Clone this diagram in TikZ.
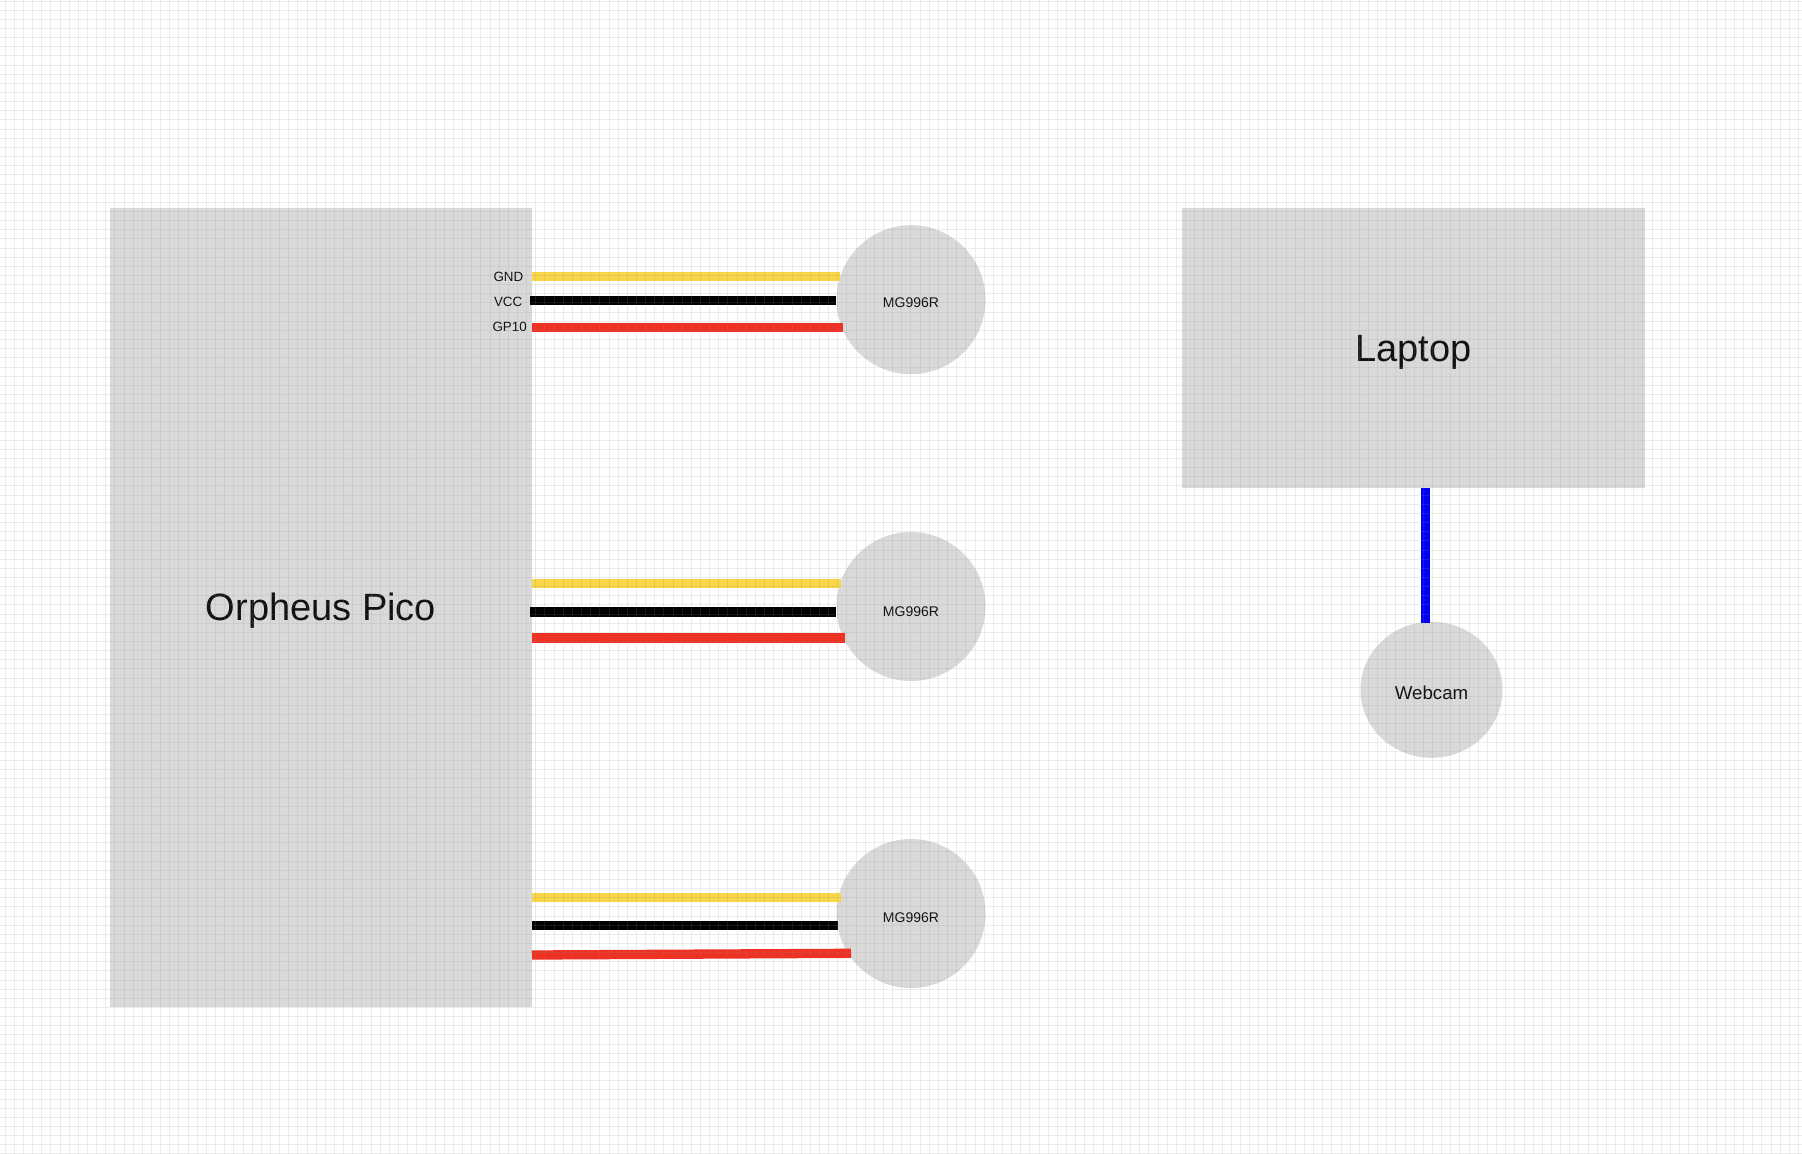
\documentclass[tikz,border=0pt]{standalone}
\usepackage{fontspec}
\usetikzlibrary{shapes.geometric}
\setmainfont{Liberation Sans}
\definecolor{boxgray}{HTML}{D9D9D9}
\definecolor{wyellow}{HTML}{F9D648}
\definecolor{wred}{HTML}{EE3122}
\definecolor{wblue}{HTML}{0000F5}
\definecolor{inktext}{HTML}{111111}
\definecolor{gridtone}{HTML}{909090}
\newcommand{\baseshift}[2]{\smash{\raisebox{#1}{#2}}}
\tikzset{
  x=1pt,y=-1pt,
  boxnode/.style={fill=boxgray,draw=none,inner sep=0pt,outer sep=0pt,text=inktext,minimum width=#1},
  circnode/.style={fill=boxgray,draw=none,circle,inner sep=0pt,outer sep=0pt,minimum size=149pt,text=inktext,font=\fontsize{14}{16}\selectfont},
  wire/.style={line width=9.3pt,line cap=butt},
  pinlabel/.style={inner sep=0pt,anchor=base east,text=inktext,font=\fontsize{13.4}{16}\selectfont},
  gridline/.style={line width=1pt,draw=gridtone,draw opacity=.16},
}
\begin{document}
\begin{tikzpicture}
\useasboundingbox (0,0) rectangle (1802,1154);
\fill[white] (0,0) rectangle (1802,1154);
% boxes
\node[boxnode=422pt,minimum height=799pt,font=\fontsize{38}{42}\selectfont] (pico) at (321,607.2) {\baseshift{-12.8pt}{Orpheus Pico}};
\node[boxnode=462.5pt,minimum height=280pt,font=\fontsize{38}{42}\selectfont] (laptop) at (1413.6,348) {\baseshift{-13.7pt}{Laptop}};
% servos
\node[circnode] (s1) at (911,299.7) {\baseshift{-7.3pt}{MG996R}};
\node[circnode] (s2) at (911,606.5) {\baseshift{-10.2pt}{MG996R}};
\node[circnode] (s3) at (911,913.5) {\baseshift{-9.2pt}{MG996R}};
\node[fill=boxgray,draw=none,ellipse,inner sep=0pt,outer sep=0pt,minimum width=142pt,minimum height=136pt,text=inktext,font=\fontsize{18.7}{22}\selectfont] (cam) at (1431.5,689.8) {\baseshift{-9.2pt}{Webcam}};
% pin labels
\node[pinlabel] (gnd) at (523.5,281.7) {GND};
\node[pinlabel] (vcc) at (522.5,306.7) {VCC};
\node[pinlabel] (gp) at (527,331.7) {GP10};
% wire ends
\coordinate (a1) at (531.5,276.7); \coordinate (b1) at (840,276.7);
\coordinate (a2) at (530,300.5);   \coordinate (b2) at (836,300.5);
\coordinate (a3) at (532,327.7);   \coordinate (b3) at (843,327.7);
\coordinate (a4) at (531.5,583.7); \coordinate (b4) at (840.7,583.7);
\coordinate (a5) at (530,612);     \coordinate (b5) at (836,612);
\coordinate (a6) at (531.7,638.1); \coordinate (b6) at (844.7,638.1);
\coordinate (a7) at (531.5,897.3); \coordinate (b7) at (841,897.3);
\coordinate (a8) at (532,925.7);   \coordinate (b8) at (838,925.7);
\coordinate (a9) at (532,955);     \coordinate (b9) at (851,953.3);
\coordinate (c1) at (1425.2,488);  \coordinate (c2) at (1425.2,622.5);
\draw[wire,wyellow] (a1) -- (b1);
\draw[wire,black] (a2) -- (b2);
\draw[wire,wred] (a3) -- (b3);
\draw[wire,wyellow] (a4) -- (b4);
\draw[wire,black] (a5) -- (b5);
\draw[wire,wred] (a6) -- (b6);
\draw[wire,wyellow] (a7) -- (b7);
\draw[wire,black] (a8) -- (b8);
\draw[wire,wred] (a9) -- (b9);
\draw[wire,wblue] (c1) -- (c2);
% overlay grid
\foreach \k in {0,...,196} {
  \draw[gridline] ({5.1+9.15*\k},0) -- ({5.1+9.15*\k},1154);
}
\foreach \k in {0,...,126} {
  \draw[gridline] (0,{1+9.15*\k}) -- (1802,{1+9.15*\k});
}
\end{tikzpicture}
\end{document}
